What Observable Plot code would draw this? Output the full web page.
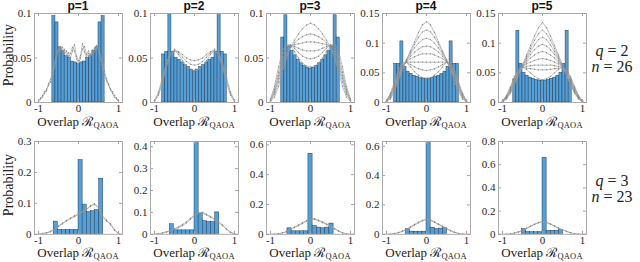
<!DOCTYPE html>
<html><head><meta charset="utf-8">
<script src="https://cdn.jsdelivr.net/npm/d3@7"></script>
<script src="https://cdn.jsdelivr.net/npm/@observablehq/plot@0.6"></script>
<style>
body{margin:0;background:#fff;}
#root{position:relative;width:640px;height:262px;overflow:hidden;background:#fff;font-family:"Liberation Serif","DejaVu Serif",serif;color:#222;}
.panel{position:absolute;}
.title{position:absolute;width:88px;text-align:center;font:bold 12px "Liberation Sans",Arial,sans-serif;color:#111;line-height:12px;}
.xlabel{position:absolute;width:120px;text-align:center;font-size:13px;line-height:14px;white-space:nowrap;}
.xlabel sub{font-size:8.5px;vertical-align:-2px;letter-spacing:0.2px;line-height:8px;}
.ylabel{position:absolute;width:100px;text-align:center;font-size:14px;line-height:16px;transform:rotate(-90deg);}
.param{position:absolute;width:60px;text-align:center;font-size:16px;line-height:18px;white-space:nowrap;}
.param i{font-style:italic;}
</style>
</head><body>
<div id="root"></div>
<script>
// ---------------- DATA ----------------
const pLabels = ["p=1", "p=2", "p=3", "p=4", "p=5"];
const rowParams = [["q = 2", "n = 26"], ["q = 3", "n = 23"]];
const xTickValues = [-1, 0, 1];

const overlapGrid = [-1,-0.9,-0.8,-0.7,-0.6,-0.5,-0.4,-0.3,-0.2,-0.1,0,0.1,0.2,0.3,0.4,0.5,0.6,0.7,0.8,0.9,1];
const overlapGridFine = [-1,-0.95,-0.9,-0.85,-0.8,-0.75,-0.7,-0.65,-0.6,-0.55,-0.5,-0.45,-0.4,-0.35,-0.3,-0.25,-0.2,-0.15,-0.1,-0.05,0,0.05,0.1,0.15,0.2,0.25,0.3,0.35,0.4,0.45,0.5,0.55,0.6,0.65,0.7,0.75,0.8,0.85,0.9,0.95,1];

// histogram bins, q=2 n=26
const binCentersN26 = [-0.769,-0.692,-0.615,-0.538,-0.462,-0.385,-0.308,-0.231,-0.154,-0.077,0,0.077,0.154,0.231,0.308,0.385,0.462,0.538,0.615,0.692,0.769];
const binWidthN26 = 0.0769;
// histogram bins, q=3 n=23
const binCentersN23 = [-0.568,-0.465,-0.362,-0.258,-0.155,-0.052,0.052,0.155,0.258,0.362,0.465,0.568];
const binWidthN23 = 0.1033;
const binCentersN23p3 = [-0.525,-0.42,-0.315,-0.21,-0.105,0,0.105,0.21,0.315,0.42,0.525];
const binWidthN23p3 = 0.105;

// bar heights (probability)
const histQ2p1 = [0,0,0.097,0.090,0.062,0.058,0.052,0.050,0.046,0.045,0.043,0.045,0.046,0.050,0.052,0.058,0.062,0.090,0.097,0,0];
const histQ2p2 = [0.054,0.057,0.12,0.057,0.050,0.048,0.045,0.042,0.040,0.037,0.035,0.037,0.040,0.042,0.045,0.048,0.050,0.057,0.12,0.057,0.054];
const histQ2p3 = [0,0.073,0.098,0.063,0.058,0.053,0.048,0.044,0.041,0.039,0.038,0.039,0.041,0.044,0.048,0.053,0.058,0.063,0.098,0.073,0];
const histQ2p4 = [0.065,0.065,0.103,0.060,0.052,0.048,0.045,0.043,0.041,0.040,0.040,0.040,0.041,0.043,0.045,0.048,0.052,0.060,0.103,0.065,0.065];
const histQ2p5 = [0,0.039,0.121,0.065,0.050,0.045,0.042,0.040,0.038,0.037,0.037,0.037,0.038,0.040,0.042,0.045,0.050,0.065,0.121,0.039,0];
const histQ3p1 = [0.041,0.014,0.014,0.014,0.014,0.014,0.24,0.096,0.072,0.075,0.078,0.18];
const histQ3p2 = [0.046,0.018,0.018,0.018,0.018,0.018,0.45,0.095,0.060,0.056,0.056,0.10];
const histQ3p3 = [0.040,0.020,0.020,0.020,0.020,0.54,0.055,0.045,0.040,0.045,0.072];
const histQ3p4 = [0,0.035,0.018,0.018,0.018,0.018,0.63,0.045,0.035,0.039,0.043,0];
const histQ3p5 = [0,0.045,0.020,0.018,0.018,0.018,0.66,0.030,0.030,0.030,0.035,0];

// dotted gray curves
const curvesQ2p1 = [
  [0.002,0.004,0.006,0.010,0.015,0.019,0.023,0.030,0.040,0.050,0.058,0.063,0.057,0.060,0.053,0.056,0.050,0.058,0.065,0.052,0.047,0.053,0.066,0.057,0.051,0.055,0.054,0.059,0.057,0.064,0.058,0.049,0.040,0.031,0.024,0.020,0.015,0.010,0.006,0.004,0.002],
  [0.001,0.005,0.008,0.012,0.013,0.021,0.026,0.034,0.044,0.054,0.061,0.058,0.062,0.055,0.058,0.052,0.055,0.062,0.058,0.049,0.044,0.050,0.060,0.063,0.054,0.058,0.051,0.057,0.061,0.060,0.062,0.053,0.044,0.035,0.027,0.021,0.014,0.012,0.008,0.005,0.001]
];
const curvesQ2p2 = [
  [0.002,0.010,0.025,0.042,0.054,0.058,0.054,0.047,0.041,0.037,0.036,0.037,0.041,0.047,0.054,0.058,0.054,0.042,0.025,0.010,0.002],
  [0.002,0.012,0.028,0.045,0.056,0.060,0.056,0.051,0.046,0.043,0.042,0.043,0.046,0.051,0.056,0.060,0.056,0.045,0.028,0.012,0.002],
  [0.001,0.008,0.022,0.040,0.053,0.058,0.057,0.054,0.050,0.048,0.047,0.048,0.050,0.054,0.057,0.058,0.053,0.040,0.022,0.008,0.001]
];
const curvesQ2p3 = [
  [0.004,0.018,0.040,0.058,0.066,0.064,0.057,0.050,0.044,0.041,0.040,0.041,0.044,0.050,0.057,0.064,0.066,0.058,0.040,0.018,0.004],
  [0.003,0.015,0.034,0.053,0.063,0.065,0.061,0.056,0.052,0.050,0.049,0.050,0.052,0.056,0.061,0.065,0.063,0.053,0.034,0.015,0.003],
  [0.003,0.013,0.030,0.048,0.060,0.064,0.063,0.061,0.059,0.058,0.058,0.058,0.059,0.061,0.063,0.064,0.060,0.048,0.030,0.013,0.003],
  [0.002,0.011,0.027,0.044,0.056,0.063,0.065,0.066,0.067,0.068,0.068,0.068,0.067,0.066,0.065,0.063,0.056,0.044,0.027,0.011,0.002],
  [0.002,0.009,0.023,0.040,0.053,0.062,0.067,0.071,0.074,0.076,0.077,0.076,0.074,0.071,0.067,0.062,0.053,0.040,0.023,0.009,0.002],
  [0.001,0.006,0.018,0.035,0.050,0.062,0.070,0.077,0.083,0.087,0.089,0.087,0.083,0.077,0.070,0.062,0.050,0.035,0.018,0.006,0.001]
];
const curvesQ2p4 = [
  [0.001,0.006,0.018,0.036,0.055,0.072,0.087,0.102,0.118,0.131,0.136,0.131,0.118,0.102,0.087,0.072,0.055,0.036,0.018,0.006,0.001],
  [0.001,0.008,0.021,0.040,0.057,0.072,0.085,0.098,0.110,0.119,0.122,0.119,0.110,0.098,0.085,0.072,0.057,0.040,0.021,0.008,0.001],
  [0.002,0.009,0.024,0.042,0.058,0.071,0.082,0.092,0.100,0.106,0.108,0.106,0.100,0.092,0.082,0.071,0.058,0.042,0.024,0.009,0.002],
  [0.002,0.011,0.026,0.044,0.059,0.070,0.078,0.085,0.090,0.094,0.095,0.094,0.090,0.085,0.078,0.070,0.059,0.044,0.026,0.011,0.002],
  [0.002,0.012,0.028,0.046,0.060,0.069,0.074,0.077,0.080,0.082,0.082,0.082,0.080,0.077,0.074,0.069,0.060,0.046,0.028,0.012,0.002],
  [0.003,0.013,0.030,0.048,0.061,0.068,0.068,0.068,0.068,0.068,0.068,0.068,0.068,0.068,0.068,0.068,0.061,0.048,0.030,0.013,0.003],
  [0.003,0.014,0.032,0.051,0.064,0.068,0.064,0.060,0.057,0.055,0.054,0.055,0.057,0.060,0.064,0.068,0.064,0.051,0.032,0.014,0.003],
  [0.003,0.016,0.035,0.055,0.067,0.068,0.060,0.052,0.046,0.042,0.041,0.042,0.046,0.052,0.060,0.068,0.067,0.055,0.035,0.016,0.003]
];
const curvesQ2p5 = [
  [0.001,0.006,0.016,0.030,0.046,0.063,0.080,0.096,0.112,0.126,0.135,0.126,0.112,0.096,0.080,0.063,0.046,0.030,0.016,0.006,0.001],
  [0.001,0.007,0.017,0.032,0.047,0.062,0.077,0.091,0.105,0.116,0.122,0.116,0.105,0.091,0.077,0.062,0.047,0.032,0.017,0.007,0.001],
  [0.001,0.007,0.018,0.033,0.048,0.061,0.074,0.086,0.097,0.106,0.110,0.106,0.097,0.086,0.074,0.061,0.048,0.033,0.018,0.007,0.001],
  [0.002,0.008,0.020,0.035,0.049,0.060,0.071,0.081,0.089,0.095,0.098,0.095,0.089,0.081,0.071,0.060,0.049,0.035,0.020,0.008,0.002],
  [0.002,0.009,0.021,0.036,0.050,0.060,0.068,0.075,0.080,0.084,0.086,0.084,0.080,0.075,0.068,0.060,0.050,0.036,0.021,0.009,0.002],
  [0.002,0.010,0.022,0.038,0.051,0.060,0.065,0.068,0.071,0.073,0.074,0.073,0.071,0.068,0.065,0.060,0.051,0.038,0.022,0.010,0.002],
  [0.002,0.010,0.024,0.040,0.052,0.059,0.061,0.062,0.063,0.063,0.063,0.063,0.063,0.062,0.061,0.059,0.052,0.040,0.024,0.010,0.002],
  [0.002,0.011,0.025,0.041,0.053,0.059,0.058,0.057,0.056,0.055,0.055,0.055,0.056,0.057,0.058,0.059,0.053,0.041,0.025,0.011,0.002],
  [0.003,0.012,0.027,0.044,0.056,0.060,0.056,0.050,0.044,0.040,0.038,0.040,0.044,0.050,0.056,0.060,0.056,0.044,0.027,0.012,0.003]
];
const curvesQ3p1 = [
  [0.001,0.002,0.004,0.008,0.015,0.027,0.036,0.043,0.050,0.057,0.064,0.072,0.082,0.090,0.099,0.088,0.056,0.043,0.034,0.016,0.003],
  [0.001,0.003,0.005,0.010,0.018,0.025,0.034,0.045,0.053,0.060,0.066,0.075,0.080,0.093,0.096,0.084,0.060,0.046,0.031,0.013,0.002]
];
const curvesQ3p2 = [
  [0.001,0.002,0.005,0.010,0.016,0.023,0.030,0.040,0.052,0.068,0.085,0.095,0.100,0.092,0.082,0.067,0.055,0.040,0.022,0.008,0.002],
  [0.001,0.003,0.006,0.012,0.019,0.026,0.034,0.045,0.058,0.073,0.088,0.098,0.097,0.088,0.078,0.070,0.058,0.043,0.025,0.010,0.002]
];
const curvesQ3p3 = [
  [0.000,0.001,0.003,0.008,0.016,0.030,0.045,0.058,0.072,0.088,0.100,0.104,0.095,0.083,0.070,0.056,0.040,0.024,0.010,0.003,0.001],
  [0.000,0.001,0.004,0.010,0.020,0.034,0.049,0.063,0.078,0.092,0.103,0.100,0.090,0.078,0.065,0.052,0.036,0.021,0.009,0.002,0.000]
];
const curvesQ3p4 = [
  [0.000,0.001,0.004,0.010,0.020,0.033,0.048,0.063,0.078,0.092,0.102,0.098,0.085,0.070,0.055,0.040,0.026,0.014,0.006,0.002,0.000],
  [0.000,0.001,0.005,0.012,0.023,0.037,0.052,0.067,0.082,0.095,0.100,0.094,0.081,0.066,0.051,0.037,0.024,0.013,0.005,0.001,0.000]
];
const curvesQ3p5 = [
  [0.000,0.001,0.004,0.010,0.020,0.033,0.050,0.067,0.085,0.100,0.110,0.104,0.090,0.073,0.055,0.040,0.026,0.014,0.006,0.002,0.000],
  [0.000,0.001,0.005,0.012,0.023,0.037,0.053,0.070,0.088,0.102,0.108,0.100,0.086,0.069,0.052,0.037,0.024,0.013,0.005,0.001,0.000]
];

// y axes
const yDomainsQ2 = [[0,0.1],[0,0.1],[0,0.1],[0,0.15],[0,0.15]];
const yTicksQ2 = [[0,0.05,0.1],[0,0.05,0.1],[0,0.05,0.1],[0,0.05,0.1,0.15],[0,0.05,0.1,0.15]];
const yDomainsQ3 = [[0,0.3],[0,0.424],[0,0.622],[0,0.632],[0,0.8]];
const yTicksQ3 = [[0,0.1,0.2,0.3],[0,0.1,0.2,0.3,0.4],[0,0.2,0.4,0.6],[0,0.2,0.4,0.6],[0,0.2,0.4,0.6,0.8]];

// ---------------- LAYOUT ----------------
const FRAME_W = 88;
const colLeft = [34, 150, 266, 382, 498];
const rowGeom = [{top: 12.7, h: 89}, {top: 140.5, h: 92.8}];
const M = {l: 32, r: 4, t: 4, b: 16};

const panels = [
  {row:0,col:0,centers:binCentersN26,bw:binWidthN26,hist:histQ2p1,grid:overlapGridFine,curves:curvesQ2p1},
  {row:0,col:1,centers:binCentersN26,bw:binWidthN26,hist:histQ2p2,grid:overlapGrid,curves:curvesQ2p2},
  {row:0,col:2,centers:binCentersN26,bw:binWidthN26,hist:histQ2p3,grid:overlapGrid,curves:curvesQ2p3},
  {row:0,col:3,centers:binCentersN26,bw:binWidthN26,hist:histQ2p4,grid:overlapGrid,curves:curvesQ2p4},
  {row:0,col:4,centers:binCentersN26,bw:binWidthN26,hist:histQ2p5,grid:overlapGrid,curves:curvesQ2p5},
  {row:1,col:0,centers:binCentersN23,bw:binWidthN23,hist:histQ3p1,grid:overlapGrid,curves:curvesQ3p1},
  {row:1,col:1,centers:binCentersN23,bw:binWidthN23,hist:histQ3p2,grid:overlapGrid,curves:curvesQ3p2},
  {row:1,col:2,centers:binCentersN23p3,bw:binWidthN23p3,hist:histQ3p3,grid:overlapGrid,curves:curvesQ3p3},
  {row:1,col:3,centers:binCentersN23,bw:binWidthN23,hist:histQ3p4,grid:overlapGrid,curves:curvesQ3p4},
  {row:1,col:4,centers:binCentersN23,bw:binWidthN23,hist:histQ3p5,grid:overlapGrid,curves:curvesQ3p5}
];

const root = document.getElementById("root");
const fmtX = d => d < 0 ? "-" + (-d) : String(d);
const fmtY = d => String(d);
const frameColor = "#a3a3a3";
const textColor = "#262626";

for (const p of panels) {
  const g = rowGeom[p.row];
  const ydom = (p.row === 0 ? yDomainsQ2 : yDomainsQ3)[p.col];
  const yt = (p.row === 0 ? yTicksQ2 : yTicksQ3)[p.col];
  const bars = p.centers.map((c, i) => ({x1: c - p.bw / 2, x2: c + p.bw / 2, y: p.hist[i]})).filter(d => d.y > 0);
  const pts = p.curves.flatMap((arr, j) => arr.map((v, i) => ({x: p.grid[i], y: v, id: j})));
  const W = M.l + FRAME_W + M.r, H = M.t + g.h + M.b;
  const svg = Plot.plot({
    width: W, height: H,
    marginLeft: M.l, marginRight: M.r, marginTop: M.t, marginBottom: M.b,
    style: {background: "transparent", fontFamily: "'Liberation Serif', serif", fontSize: "11px", overflow: "visible"},
    x: {domain: [-1.1, 1.1]},
    y: {domain: ydom},
    marks: [
      Plot.rectY(bars, {x1: "x1", x2: "x2", y: "y", fill: "#549fd7", stroke: "#1e3348", strokeWidth: 0.45, clip: true}),
      Plot.line(pts, {x: "x", y: "y", z: "id", stroke: "#9c9c9c", strokeWidth: 0.7, strokeDasharray: "2,1", clip: true}),
      Plot.dot(pts, {x: "x", y: "y", r: 0.7, fill: "#8a8a8a", clip: true}),
      Plot.tickX(xTickValues, {x: d => d, insetTop: g.h - 3, stroke: frameColor}),
      Plot.tickX(xTickValues, {x: d => d, insetBottom: g.h - 3, stroke: frameColor}),
      Plot.tickY(yt, {y: d => d, insetRight: FRAME_W - 3, stroke: frameColor}),
      Plot.tickY(yt, {y: d => d, insetLeft: FRAME_W - 3, stroke: frameColor}),
      Plot.frame({stroke: frameColor, strokeWidth: 0.9}),
      Plot.axisX({ticks: xTickValues, tickSize: 0, tickPadding: 2, tickFormat: fmtX, label: null, color: textColor, fontSize: 11}),
      Plot.axisY({ticks: yt, tickSize: 0, tickPadding: 3, tickFormat: fmtY, label: null, color: textColor, fontSize: 11})
    ]
  });
  const wrap = document.createElement("div");
  wrap.className = "panel";
  wrap.style.left = (colLeft[p.col] - M.l) + "px";
  wrap.style.top = (g.top - M.t) + "px";
  wrap.appendChild(svg);
  root.appendChild(wrap);

  const xl = document.createElement("div");
  xl.className = "xlabel";
  xl.innerHTML = "Overlap ℛ<sub>QAOA</sub>";
  xl.style.left = (colLeft[p.col] + FRAME_W / 2 - 60) + "px";
  xl.style.top = (g.top + g.h + 12.8) + "px";
  root.appendChild(xl);
}

pLabels.forEach((t, i) => {
  const d = document.createElement("div");
  d.className = "title";
  d.textContent = t;
  d.style.left = colLeft[i] + "px";
  d.style.top = "0px";
  root.appendChild(d);
});

rowGeom.forEach((g, r) => {
  const yl = document.createElement("div");
  yl.className = "ylabel";
  yl.textContent = "Probability";
  yl.style.left = (9 - 50) + "px";
  yl.style.top = (g.top + g.h / 2 - 2 - 8) + "px";
  root.appendChild(yl);
  rowParams[r].forEach((s, k) => {
    const d = document.createElement("div");
    d.className = "param";
    const [a, b] = s.split(" = ");
    d.innerHTML = "<i>" + a + "</i> = " + b;
    d.style.left = (612 - 30) + "px";
    d.style.top = (g.top + g.h / 2 - 6 + k * 16 - 9) + "px";
    root.appendChild(d);
  });
});
</script>
</body></html>
